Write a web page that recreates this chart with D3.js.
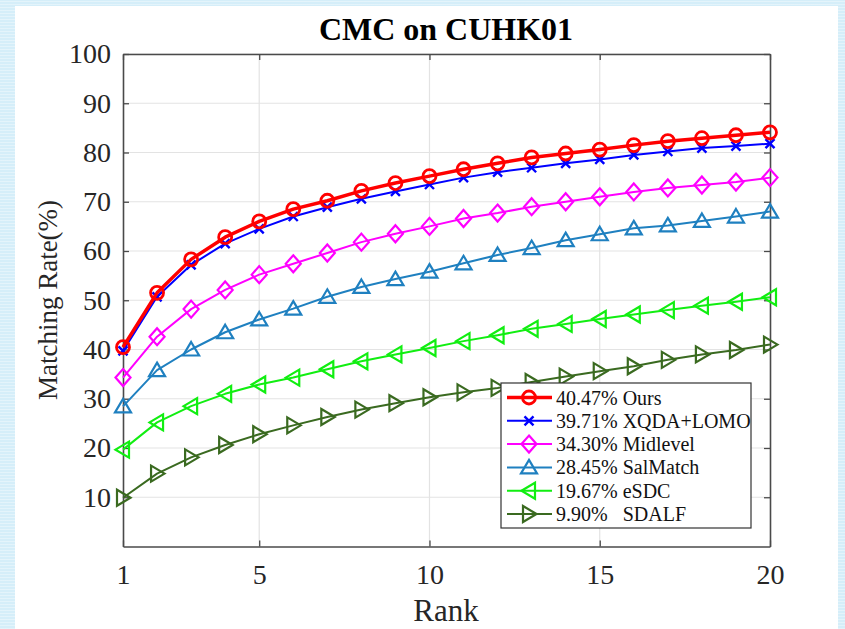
<!DOCTYPE html>
<html><head><meta charset="utf-8">
<script src="https://cdn.jsdelivr.net/npm/d3@7/dist/d3.min.js"></script>
<style>
html,body{margin:0;padding:0;}
body{width:845px;height:629px;overflow:hidden;
background:#d5eef9;
background-image:repeating-linear-gradient(0deg, rgba(255,255,255,0.35) 0px, rgba(255,255,255,0.35) 1px, transparent 1px, transparent 3px);}
svg{position:absolute;left:0;top:0;}
svg text{font-family:"Liberation Serif","Times New Roman",Times,"DejaVu Serif",serif;}
</style></head><body>
<svg id="c" width="845" height="629"></svg>
<script>
const ranks = d3.range(1, 21);
const xTicks = [1, 5, 10, 15, 20];
const yTicks = [10, 20, 30, 40, 50, 60, 70, 80, 90, 100];
const seriesNames = ["40.47% Ours", "39.71% XQDA+LOMO", "34.30% Midlevel", "28.45% SalMatch", "19.67% eSDC", "9.90%   SDALF"];
const ours     = [40.47, 51.5, 58.3, 62.8, 66.0, 68.5, 70.2, 72.2, 73.8, 75.2, 76.6, 77.8, 79.0, 79.8, 80.6, 81.5, 82.3, 82.9, 83.5, 84.1];
const xqda     = [39.71, 50.7, 57.2, 61.5, 64.5, 67.0, 68.9, 70.6, 72.1, 73.5, 74.9, 76.0, 76.9, 77.8, 78.6, 79.5, 80.2, 80.9, 81.3, 81.8];
const midlevel = [34.30, 42.6, 48.2, 52.1, 55.2, 57.4, 59.6, 61.8, 63.5, 65.0, 66.6, 67.7, 69.0, 70.0, 71.0, 72.0, 72.8, 73.4, 74.0, 74.9];
const salmatch = [28.45, 35.8, 40.0, 43.5, 46.1, 48.3, 50.7, 52.7, 54.3, 55.8, 57.5, 59.2, 60.6, 62.2, 63.4, 64.6, 65.2, 66.1, 67.0, 68.0];
const esdc     = [19.67, 25.2, 28.5, 31.0, 32.9, 34.3, 36.0, 37.6, 39.0, 40.3, 41.7, 42.9, 44.2, 45.2, 46.2, 47.1, 48.0, 48.9, 49.7, 50.6];
const sdalf    = [9.90, 14.8, 18.1, 20.6, 22.8, 24.6, 26.3, 27.8, 29.1, 30.3, 31.3, 32.2, 33.4, 34.5, 35.6, 36.6, 37.9, 39.0, 39.9, 41.0];

const styles = [
  {color:"#ff0000", w:3.5, marker:"circle"},
  {color:"#0000ff", w:2, marker:"x"},
  {color:"#ff00ff", w:2, marker:"diamond"},
  {color:"#1f80c0", w:2, marker:"up"},
  {color:"#11ee11", w:2, marker:"left"},
  {color:"#3a6a20", w:2, marker:"right"}
];
const allData = [ours, xqda, midlevel, salmatch, esdc, sdalf];

const svg = d3.select("#c");
svg.append("rect").attr("x",15).attr("y",6).attr("width",823).attr("height",623).attr("fill","#ffffff");

const L=123, R=770, T=54, B=546.5;
const x = d3.scaleLinear().domain([1,20]).range([L,R]);
const y = d3.scaleLinear().domain([0,100]).range([B,T]);
const FF = '"Liberation Serif","Times New Roman",Times,"DejaVu Serif",serif';

// grid
const g = svg.append("g");
g.selectAll(".gy").data(yTicks).enter().append("line")
  .attr("x1",L).attr("x2",R).attr("y1",d=>y(d)).attr("y2",d=>y(d))
  .attr("stroke","#e3e3e3").attr("stroke-width",1.2);
g.selectAll(".gx").data(xTicks.filter(d=>d>1&&d<20)).enter().append("line")
  .attr("y1",T).attr("y2",B).attr("x1",d=>x(d)).attr("x2",d=>x(d))
  .attr("stroke","#e3e3e3").attr("stroke-width",1.2);

// axes
const axL = d3.axisLeft(y).tickValues(yTicks).tickSizeInner(-6).tickSizeOuter(0).tickPadding(12);
const axR = d3.axisRight(y).tickValues(yTicks).tickSizeInner(-6).tickSizeOuter(0).tickFormat("");
const axB = d3.axisBottom(x).tickValues(xTicks).tickSizeInner(-6).tickSizeOuter(0).tickPadding(18);
const axT = d3.axisTop(x).tickValues(xTicks).tickSizeInner(-6).tickSizeOuter(0).tickFormat("");
function styleAx(sel){
  sel.attr("font-family",null);
  sel.selectAll("path").attr("stroke","#4a4a4a").attr("stroke-width",1.6);
  sel.selectAll("line").attr("stroke","#4a4a4a").attr("stroke-width",1.3);
  sel.selectAll("text").style("font-family",FF).attr("font-size",28).attr("fill","#262626");
}
svg.append("g").attr("transform",`translate(${L},0)`).call(axL).call(styleAx);
svg.append("g").attr("transform",`translate(${R},0)`).call(axR).call(styleAx);
svg.append("g").attr("transform",`translate(0,${B})`).call(axB).call(styleAx);
svg.append("g").attr("transform",`translate(0,${T})`).call(axT).call(styleAx);

// markers
function drawMarker(sel, type, color, sw){
  if(type==="circle"){
    sel.append("circle").attr("r",6.5).attr("fill","none").attr("stroke",color).attr("stroke-width",2.8);
  } else if(type==="x"){
    sel.append("path").attr("d",`M-4.5,-4.5L4.5,4.5M-4.5,4.5L4.5,-4.5`).attr("stroke",color).attr("stroke-width",2.4).attr("fill","none");
  } else if(type==="diamond"){
    sel.append("path").attr("d",`M0,-8.5L7.5,0L0,8.5L-7.5,0Z`).attr("fill","none").attr("stroke",color).attr("stroke-width",sw);
  } else if(type==="up"){
    sel.append("path").attr("d",`M0,-7.5L8,6L-8,6Z`).attr("fill","none").attr("stroke",color).attr("stroke-width",sw);
  } else if(type==="left"){
    sel.append("path").attr("d",`M-7.5,0L6,-8L6,8Z`).attr("fill","none").attr("stroke",color).attr("stroke-width",sw);
  } else if(type==="right"){
    sel.append("path").attr("d",`M7.5,0L-6,-8L-6,8Z`).attr("fill","none").attr("stroke",color).attr("stroke-width",sw);
  }
}

const line = d3.line().x((d,i)=>x(ranks[i])).y(d=>y(d));
for(let k=allData.length-1;k>=0;k--){
  const st = styles[k];
  const sg = svg.append("g");
  sg.append("path").datum(allData[k]).attr("d",line).attr("fill","none")
    .attr("stroke",st.color).attr("stroke-width",st.w).attr("stroke-linejoin","round");
  sg.selectAll("g.m").data(allData[k]).enter().append("g")
    .attr("transform",(d,i)=>`translate(${x(ranks[i])},${y(d)})`)
    .each(function(){ drawMarker(d3.select(this), st.marker, st.color, 2.2); });
}

// legend
const lg = svg.append("g");
lg.append("rect").attr("x",501).attr("y",383).attr("width",250).attr("height",145)
  .attr("fill","#ffffff").attr("stroke","#333").attr("stroke-width",1.2);
seriesNames.forEach((name,i)=>{
  const yy = 397.5 + i*23.3;
  const st = styles[i];
  lg.append("line").attr("x1",507).attr("x2",552).attr("y1",yy).attr("y2",yy)
    .attr("stroke",st.color).attr("stroke-width",st.w);
  const mg = lg.append("g").attr("transform",`translate(529,${yy})`);
  drawMarker(mg, st.marker, st.color, 2.2);
  lg.append("text").attr("x",556).attr("y",yy+7).style("font-family",FF).attr("font-size",20)
    .attr("fill","#111").style("white-space","pre").text(name);
});

// titles
svg.append("text").attr("x",446).attr("y",40).attr("text-anchor","middle")
  .style("font-family",FF).attr("font-weight","bold").attr("font-size",32).attr("fill","#000").text("CMC on CUHK01");
svg.append("text").attr("x",446).attr("y",621).attr("text-anchor","middle")
  .style("font-family",FF).attr("font-size",31).attr("fill","#262626").text("Rank");
svg.append("text").attr("transform","translate(57,300) rotate(-90)").attr("text-anchor","middle")
  .style("font-family",FF).attr("font-size",27).attr("fill","#262626").text("Matching Rate(%)");
</script>
</body></html>
